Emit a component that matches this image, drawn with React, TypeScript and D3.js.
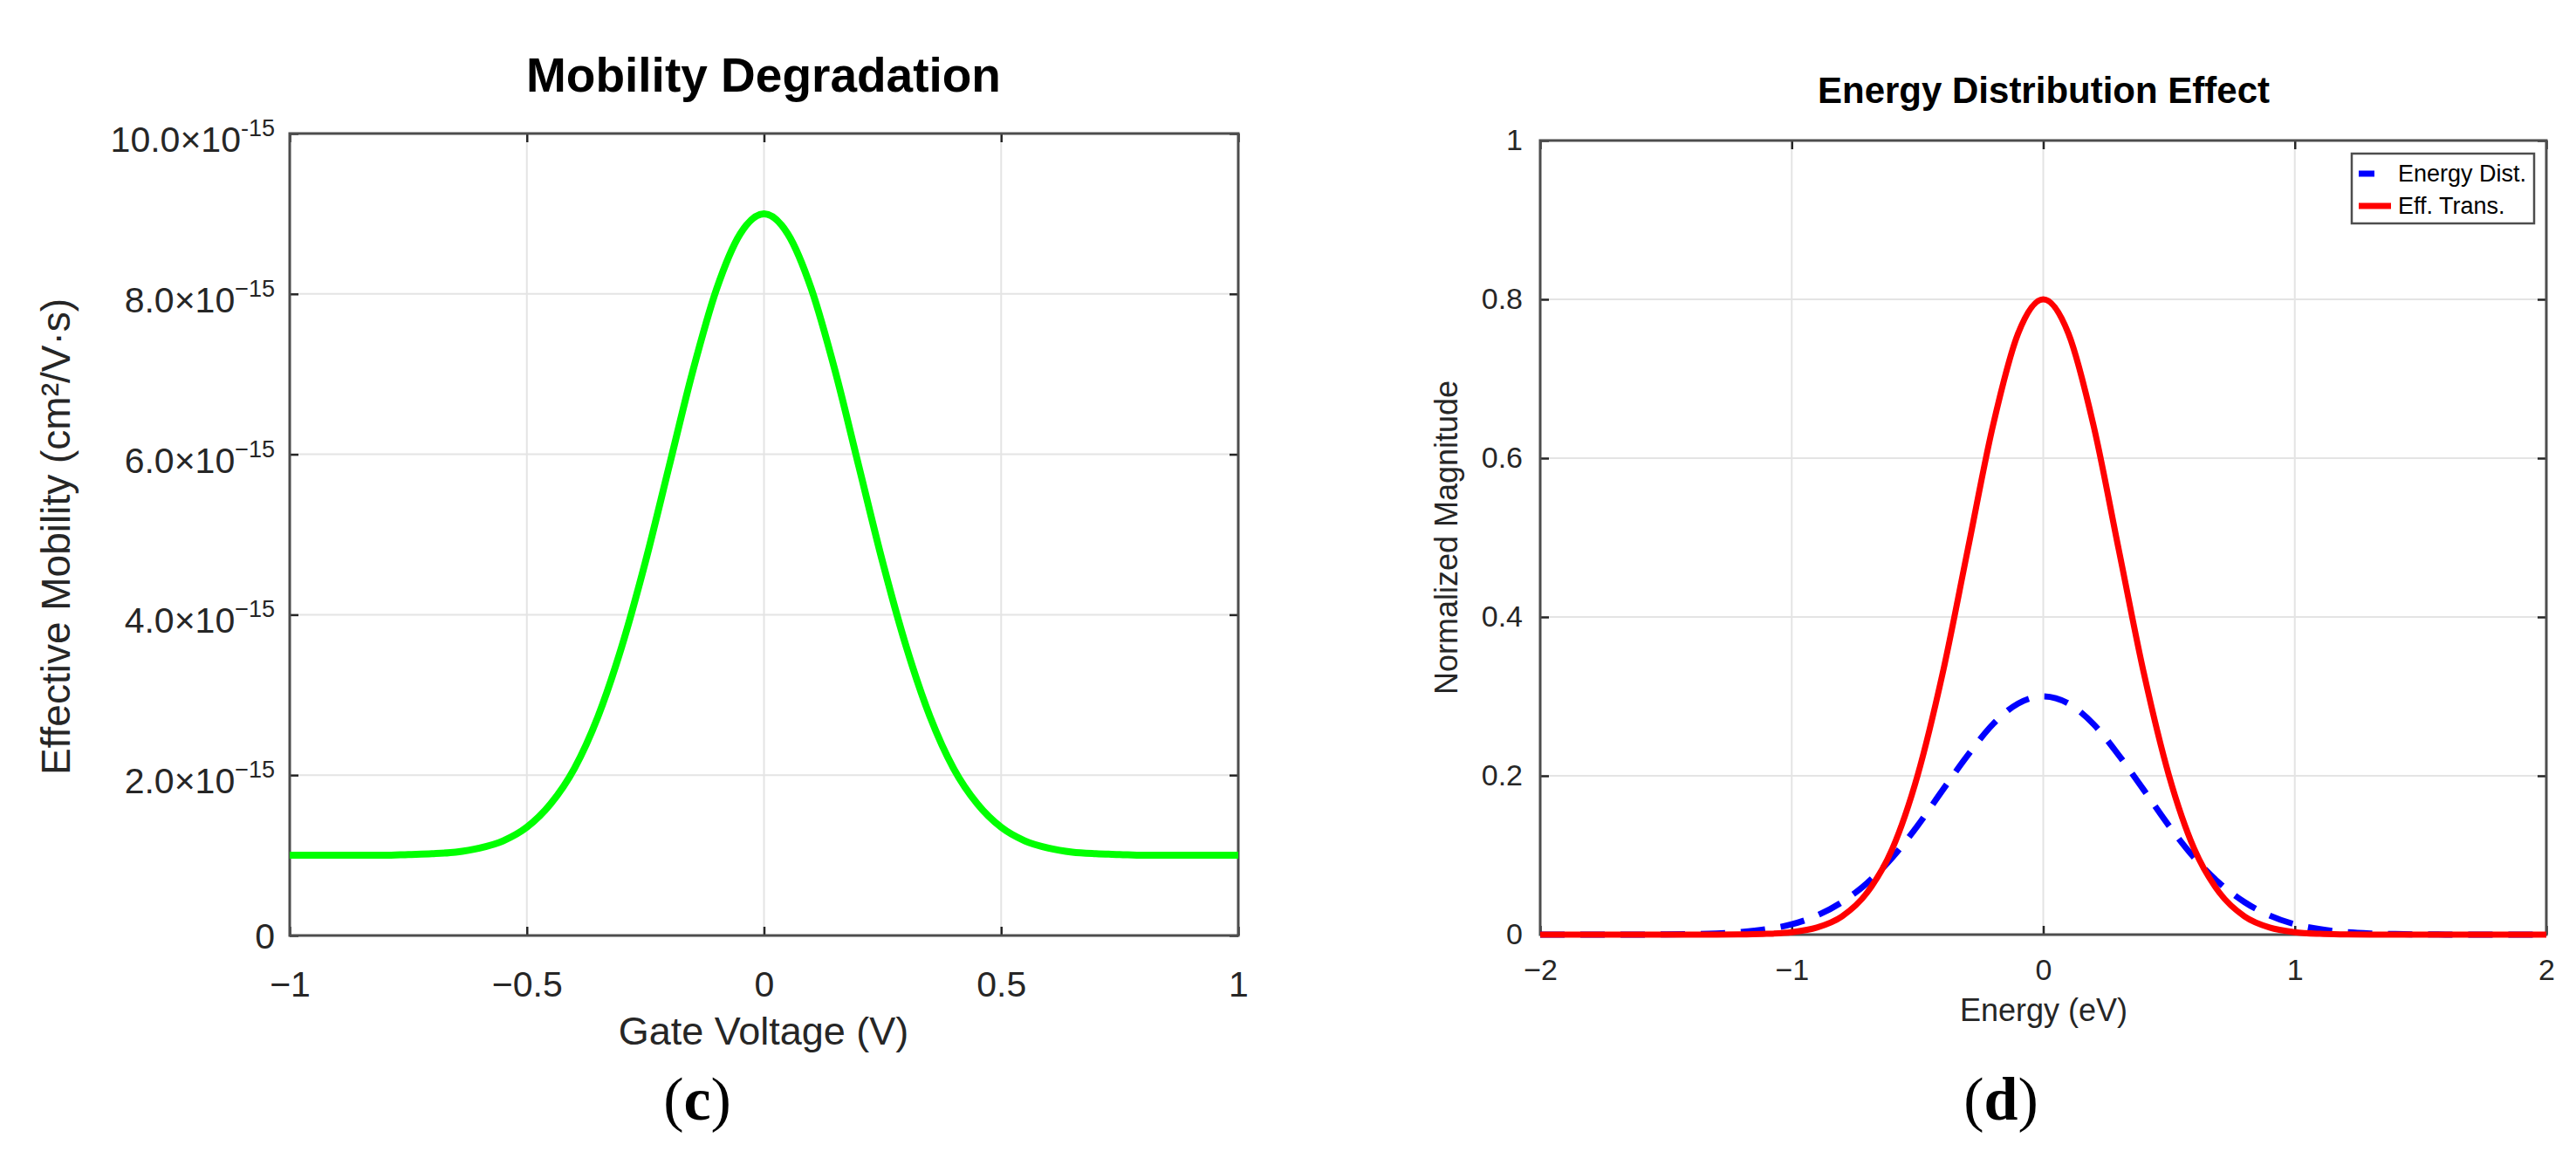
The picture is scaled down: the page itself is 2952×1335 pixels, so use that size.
import React, { useRef, useEffect } from 'react';
import * as d3 from 'd3';

const W = 2952;
const H = 1335;

// (c) mobility vs gate voltage, values in units of 1e-15 cm²/V·s
const gateVoltage = [
  -1, -0.95, -0.9, -0.85, -0.8, -0.75, -0.7, -0.65, -0.6, -0.55, -0.5, -0.45, -0.4, -0.35,
  -0.3, -0.25, -0.2, -0.15, -0.1, -0.05, 0, 0.05, 0.1, 0.15, 0.2, 0.25, 0.3, 0.35, 0.4,
  0.45, 0.5, 0.55, 0.6, 0.65, 0.7, 0.75, 0.8, 0.85, 0.9, 0.95, 1,
];
const mobility = [
  1.0, 1.0, 1.0, 1.0, 1.0, 1.01, 1.02, 1.04, 1.09, 1.18, 1.35, 1.64, 2.08, 2.73, 3.6, 4.66,
  5.85, 7.04, 8.06, 8.75, 9.0, 8.75, 8.06, 7.04, 5.85, 4.66, 3.6, 2.73, 2.08, 1.64, 1.35,
  1.18, 1.09, 1.04, 1.02, 1.01, 1.0, 1.0, 1.0, 1.0, 1.0,
];
const voltageTicks = [-1, -0.5, 0, 0.5, 1];
const mobilityTicks = [0, 2, 4, 6, 8, 10];
const mobilityTickLabels = [
  ['0', ''],
  ['2.0×10', '−15'],
  ['4.0×10', '−15'],
  ['6.0×10', '−15'],
  ['8.0×10', '−15'],
  ['10.0×10', '-15'],
];

// (d) energy distribution
const energy = [
  -2, -1.9, -1.8, -1.7, -1.6, -1.5, -1.4, -1.3, -1.2, -1.1, -1, -0.9, -0.8, -0.7, -0.6, -0.5,
  -0.4, -0.3, -0.2, -0.1, 0, 0.1, 0.2, 0.3, 0.4, 0.5, 0.6, 0.7, 0.8, 0.9, 1, 1.1, 1.2, 1.3,
  1.4, 1.5, 1.6, 1.7, 1.8, 1.9, 2,
];
const energyDist = [
  0, 0, 0, 0, 0.0001, 0.0003, 0.0007, 0.0015, 0.0033, 0.0068, 0.013, 0.024, 0.041, 0.065,
  0.097, 0.137, 0.182, 0.226, 0.265, 0.291, 0.3, 0.291, 0.265, 0.226, 0.182, 0.137, 0.097,
  0.065, 0.041, 0.024, 0.013, 0.0068, 0.0033, 0.0015, 0.0007, 0.0003, 0.0001, 0, 0, 0, 0,
];
const effTrans = [
  0, 0, 0, 0, 0, 0, 0, 0, 0.0003, 0.001, 0.0031, 0.0089, 0.023, 0.053, 0.108, 0.2, 0.329,
  0.485, 0.641, 0.757, 0.8, 0.757, 0.641, 0.485, 0.329, 0.2, 0.108, 0.053, 0.023, 0.0089,
  0.0031, 0.001, 0.0003, 0, 0, 0, 0, 0, 0, 0, 0,
];
const energyTicks = [-2, -1, 0, 1, 2];
const magnitudeTicks = [0, 0.2, 0.4, 0.6, 0.8, 1];
const legendLabels = ['Energy Dist.', 'Eff. Trans.'];

const SANS = '"Liberation Sans", Arial, Helvetica, sans-serif';
const SERIF = '"Liberation Serif", "Times New Roman", serif';
const AXIS_COLOR = '#262626';
const BOX_COLOR = '#4d4d4d';
const GRID_COLOR = '#e4e4e4';

type Sel = d3.Selection<SVGGElement, unknown, null, undefined>;

// grid + box + inward ticks on all four sides, MATLAB style
function drawFrame(
  g: Sel,
  x: d3.ScaleLinear<number, number>,
  y: d3.ScaleLinear<number, number>,
  xTicks: number[],
  yTicks: number[],
  fontSize: number,
  xPad: number,
  yPad: number,
) {
  const [x0, x1] = x.range();
  const [y0, y1] = y.range();

  g.append('g')
    .selectAll('line')
    .data(xTicks)
    .join('line')
    .attr('x1', (d) => x(d))
    .attr('x2', (d) => x(d))
    .attr('y1', y0)
    .attr('y2', y1)
    .attr('stroke', GRID_COLOR)
    .attr('stroke-width', 2);

  g.append('g')
    .selectAll('line')
    .data(yTicks)
    .join('line')
    .attr('x1', x0)
    .attr('x2', x1)
    .attr('y1', (d) => y(d))
    .attr('y2', (d) => y(d))
    .attr('stroke', GRID_COLOR)
    .attr('stroke-width', 2);

  const bottom = g.append('g')
    .attr('transform', `translate(0,${y0})`)
    .call(d3.axisBottom(x).tickValues(xTicks).tickFormat(d3.format('') as any)
      .tickSizeInner(-10).tickSizeOuter(0).tickPadding(xPad));
  const left = g.append('g')
    .attr('transform', `translate(${x0},0)`)
    .call(d3.axisLeft(y).tickValues(yTicks).tickFormat(d3.format('') as any)
      .tickSizeInner(-10).tickSizeOuter(0).tickPadding(yPad));
  const top = g.append('g')
    .attr('transform', `translate(0,${y1})`)
    .call(d3.axisTop(x).tickValues(xTicks).tickFormat(() => '')
      .tickSizeInner(-10).tickSizeOuter(0));
  const right = g.append('g')
    .attr('transform', `translate(${x1},0)`)
    .call(d3.axisRight(y).tickValues(yTicks).tickFormat(() => '')
      .tickSizeInner(-10).tickSizeOuter(0));

  [bottom, left, top, right].forEach((a) => {
    a.select('.domain').remove();
    a.attr('color', AXIS_COLOR)
      .attr('font-family', SANS)
      .attr('font-size', fontSize);
    a.selectAll('.tick line').attr('stroke-width', 2.5);
  });

  g.append('rect')
    .attr('x', x0)
    .attr('y', y1)
    .attr('width', x1 - x0)
    .attr('height', y0 - y1)
    .attr('fill', 'none')
    .attr('stroke', BOX_COLOR)
    .attr('stroke-width', 3);

  return { bottom, left };
}

const App: React.FC = () => {
  const svgRef = useRef<SVGSVGElement | null>(null);

  useEffect(() => {
    const svg = d3.select(svgRef.current!);
    svg.selectAll('*').remove();

    // ---------- (c) Mobility Degradation ----------
    const gc = svg.append('g');
    const xc = d3.scaleLinear().domain([-1, 1]).range([332, 1419]);
    const yc = d3.scaleLinear().domain([0, 10]).range([1072, 153]);

    const fc = drawFrame(gc, xc, yc, voltageTicks, mobilityTicks, 41, 41, 17);
    fc.left.selectAll<SVGTextElement, number>('.tick text').each(function (_d, i) {
      const t = d3.select(this);
      const [mant, exp] = mobilityTickLabels[i];
      t.text(null).attr('dy', exp ? '0.5em' : '0.36em');
      t.append('tspan').text(mant);
      if (exp) t.append('tspan').attr('dy', -18).attr('font-size', 27).text(exp);
    });

    const lineC = d3.line<number>()
      .x((_d, i) => xc(gateVoltage[i]))
      .y((d) => yc(d))
      .curve(d3.curveMonotoneX);
    gc.append('path')
      .datum(mobility)
      .attr('fill', 'none')
      .attr('stroke', '#00ff00')
      .attr('stroke-width', 8)
      .attr('d', lineC);

    gc.append('text')
      .attr('x', 875).attr('y', 105)
      .attr('text-anchor', 'middle')
      .attr('font-family', SANS).attr('font-weight', 'bold').attr('font-size', 55)
      .text('Mobility Degradation');
    gc.append('text')
      .attr('x', 875).attr('y', 1197)
      .attr('text-anchor', 'middle')
      .attr('font-family', SANS).attr('font-size', 45).attr('fill', AXIS_COLOR)
      .text('Gate Voltage (V)');
    gc.append('text')
      .attr('transform', 'translate(80,615) rotate(-90)')
      .attr('text-anchor', 'middle')
      .attr('font-family', SANS).attr('font-size', 46).attr('fill', AXIS_COLOR)
      .text('Effective Mobility (cm²/V·s)');
    const capC = gc.append('text')
      .attr('x', 799).attr('y', 1283)
      .attr('text-anchor', 'middle')
      .attr('font-family', SERIF).attr('font-size', 70);
    capC.append('tspan').text('(');
    capC.append('tspan').attr('font-weight', 'bold').text('c');
    capC.append('tspan').text(')');

    // ---------- (d) Energy Distribution Effect ----------
    const gd = svg.append('g');
    const xd = d3.scaleLinear().domain([-2, 2]).range([1765, 2918]);
    const yd = d3.scaleLinear().domain([0, 1]).range([1071, 161]);

    drawFrame(gd, xd, yd, energyTicks, magnitudeTicks, 34, 28, 20);

    const lineD = (vals: number[]) => d3.line<number>()
      .x((_d, i) => xd(energy[i]))
      .y((d) => yd(d))
      .curve(d3.curveMonotoneX)(vals);

    gd.append('path')
      .attr('d', lineD(energyDist))
      .attr('fill', 'none')
      .attr('stroke', '#0000ff')
      .attr('stroke-width', 7)
      .attr('stroke-dasharray', '28,18');
    gd.append('path')
      .attr('d', lineD(effTrans))
      .attr('fill', 'none')
      .attr('stroke', '#ff0000')
      .attr('stroke-width', 7);

    gd.append('text')
      .attr('x', 2342).attr('y', 118)
      .attr('text-anchor', 'middle')
      .attr('font-family', SANS).attr('font-weight', 'bold').attr('font-size', 42)
      .text('Energy Distribution Effect');
    gd.append('text')
      .attr('x', 2342).attr('y', 1170)
      .attr('text-anchor', 'middle')
      .attr('font-family', SANS).attr('font-size', 36).attr('fill', AXIS_COLOR)
      .text('Energy (eV)');
    gd.append('text')
      .attr('transform', 'translate(1670,616) rotate(-90)')
      .attr('text-anchor', 'middle')
      .attr('font-family', SANS).attr('font-size', 36).attr('fill', AXIS_COLOR)
      .text('Normalized Magnitude');
    const capD = gd.append('text')
      .attr('x', 2293).attr('y', 1283)
      .attr('text-anchor', 'middle')
      .attr('font-family', SERIF).attr('font-size', 70);
    capD.append('tspan').text('(');
    capD.append('tspan').attr('font-weight', 'bold').text('d');
    capD.append('tspan').text(')');

    // legend
    const leg = gd.append('g');
    leg.append('rect')
      .attr('x', 2695).attr('y', 176)
      .attr('width', 209).attr('height', 80)
      .attr('fill', '#fff')
      .attr('stroke', BOX_COLOR)
      .attr('stroke-width', 2.5);
    const legColors = ['#0000ff', '#ff0000'];
    legendLabels.forEach((lab, i) => {
      const cy = 199 + i * 37;
      leg.append('line')
        .attr('x1', 2703).attr('x2', 2740)
        .attr('y1', cy).attr('y2', cy)
        .attr('stroke', legColors[i])
        .attr('stroke-width', 7)
        .attr('stroke-dasharray', i === 0 ? '18,40' : null);
      leg.append('text')
        .attr('x', 2748).attr('y', cy)
        .attr('dy', '0.35em')
        .attr('font-family', SANS).attr('font-size', 27).attr('fill', '#000')
        .text(lab);
    });
  }, []);

  return (
    <svg
      ref={svgRef}
      width={W}
      height={H}
      style={{ position: 'absolute', left: 0, top: 0, background: '#fff' }}
    />
  );
};

export default App;
